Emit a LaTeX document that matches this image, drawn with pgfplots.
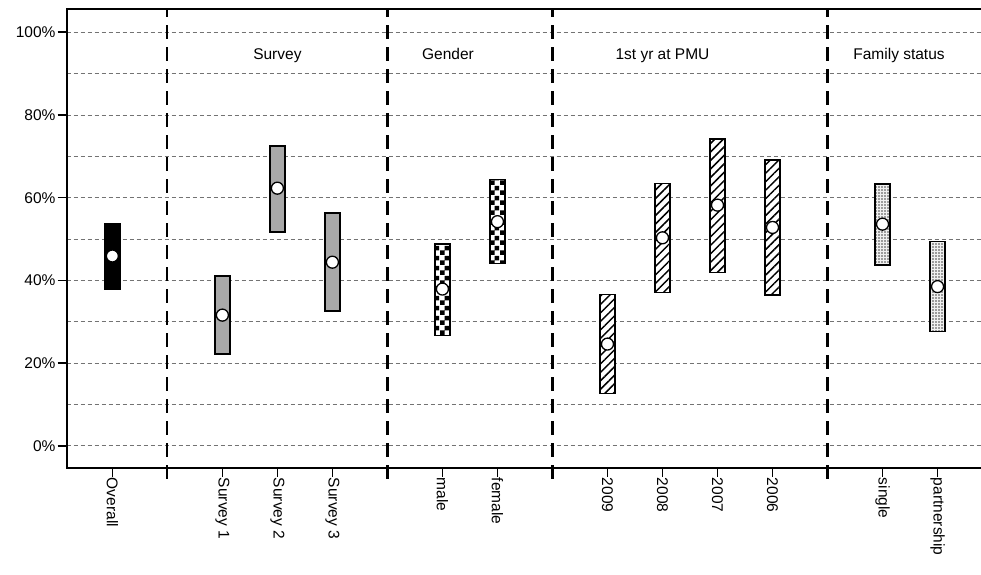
\documentclass[border=0pt]{standalone}
\usepackage{pgfplots}
\usepackage{pgfplotstable}
\pgfplotsset{compat=1.18}
\usetikzlibrary{patterns,patterns.meta}
\usepackage{fontspec}
\setmainfont{Liberation Sans}
\definecolor{survgray}{HTML}{A8A8A8}
\pgfdeclarepattern{
  name=mychecker,
  type=uncolored,
  bottom left={\pgfpointorigin},
  top right={\pgfqpoint{10pt}{10pt}},
  tile size={\pgfqpoint{10pt}{10pt}},
  code={
    \pgfpathrectangle{\pgfpointorigin}{\pgfqpoint{5pt}{5pt}}
    \pgfpathrectangle{\pgfqpoint{5pt}{5pt}}{\pgfqpoint{5pt}{5pt}}
    \pgfusepath{fill}
  }
}
\newcommand{\lbl}{\fontsize{15.5}{18}\selectfont}
\pgfplotstableread{
x lo mid hi
0 37.8 45.9 53.8
}\overall
\pgfplotstableread{
x lo mid hi
2 22.2 31.6 41.1
3 51.7 62.3 72.5
4 32.6 44.4 56.3
}\survey
\pgfplotstableread{
x lo mid hi
6 26.6 37.9 48.8
7 44.1 54.2 64.4
}\gender
\pgfplotstableread{
x lo mid hi
9 12.7 24.6 36.6
10 37.0 50.3 63.5
11 41.9 58.2 74.2
12 36.5 52.8 69.1
}\firstyr
\pgfplotstableread{
x lo mid hi
14 43.7 53.6 63.3
15 27.6 38.5 49.4
}\family
\pgfplotsset{
  common/.style={scale only axis, width=922pt, height=458.4pt,
    xmin=-0.83, xmax=15.93, ymin=-5.3, ymax=105.56, clip=false},
  baraxis/.style={common, hide axis, ybar stacked, bar width=15pt},
  rng/.style={draw=black, line width=1.4pt},
  pt/.style={only marks, mark=*, mark size=6pt, mark options={fill=white, draw=black, line width=1.3pt}},
}
\begin{document}
\begin{tikzpicture}
\path[use as bounding box] (-66.7pt,-106.3pt) rectangle (914.3pt,467.7pt);
% main axis: frame, ticks, grid, separators, titles
\begin{axis}[
  common,
  axis line style={black, line width=1.8pt},
  xtick={0,2,3,4,6,7,9,10,11,12,14,15},
  xticklabels={Overall,Survey 1,Survey 2,Survey 3,male,female,2009,2008,2007,2006,single,partnership},
  xtick pos=bottom, ytick pos=left,
  tick align=outside,
  major tick length=9pt,
  minor tick length=0pt,
  tick style={black, line width=1.6pt},
  xticklabel style={rotate=-90, anchor=west, font=\lbl, inner sep=1pt},
  yticklabel style={font=\lbl, inner sep=2pt},
  ytick={0,20,...,100},
  minor ytick={10,30,...,90},
  yticklabel={\pgfmathprintnumber{\tick}\%},
  /pgf/number format/assume math mode=true,
  ymajorgrids, yminorgrids,
  major grid style={gray!90!black, line width=0.8pt, dash pattern=on 4pt off 3pt},
  minor grid style={gray!90!black, line width=0.8pt, dash pattern=on 4pt off 3pt},
]
\foreach \s in {1,5,8,13}{
  \edef\tmp{\noexpand\draw[black, line width=2.2pt, dash pattern=on 14pt off 8pt]
    ([yshift=-11pt]axis cs:\s,-5.3) -- (axis cs:\s,105.56);}
  \tmp
}
\node[font=\lbl, anchor=base] at (axis cs:3,93.3) {Survey};
\node[font=\lbl, anchor=base] at (axis cs:6.1,93.3) {Gender};
\node[font=\lbl, anchor=base] at (axis cs:10,93.3) {1st yr at PMU};
\node[font=\lbl, anchor=base] at (axis cs:14.3,93.3) {Family status};
\end{axis}
% bars
\begin{axis}[baraxis]
\addplot[draw=none, fill=none] table[x=x, y=lo] {\overall};
\addplot[rng, fill=black] table[x=x, y expr=\thisrow{hi}-\thisrow{lo}] {\overall};
\end{axis}
\begin{axis}[baraxis]
\addplot[draw=none, fill=none] table[x=x, y=lo] {\survey};
\addplot[rng, fill=survgray] table[x=x, y expr=\thisrow{hi}-\thisrow{lo}] {\survey};
\end{axis}
\begin{axis}[baraxis]
\addplot[draw=none, fill=none] table[x=x, y=lo] {\gender};
\addplot[rng, fill=white, postaction={pattern=mychecker}] table[x=x, y expr=\thisrow{hi}-\thisrow{lo}] {\gender};
\end{axis}
\begin{axis}[baraxis]
\addplot[draw=none, fill=none] table[x=x, y=lo] {\firstyr};
\addplot[rng, fill=white, postaction={pattern={Lines[angle=45,distance=6pt,line width=1.5pt]}}] table[x=x, y expr=\thisrow{hi}-\thisrow{lo}] {\firstyr};
\end{axis}
\begin{axis}[baraxis]
\addplot[draw=none, fill=none] table[x=x, y=lo] {\family};
\addplot[rng, fill=gray!12, postaction={pattern={Dots[distance=3pt,radius=0.85pt]}, pattern color=gray!55!black}] table[x=x, y expr=\thisrow{hi}-\thisrow{lo}] {\family};
\end{axis}
% point estimates
\begin{axis}[common, hide axis]
\addplot[pt] table[x=x, y=mid] {\overall};
\addplot[pt] table[x=x, y=mid] {\survey};
\addplot[pt] table[x=x, y=mid] {\gender};
\addplot[pt] table[x=x, y=mid] {\firstyr};
\addplot[pt] table[x=x, y=mid] {\family};
\end{axis}
\end{tikzpicture}
\end{document}
